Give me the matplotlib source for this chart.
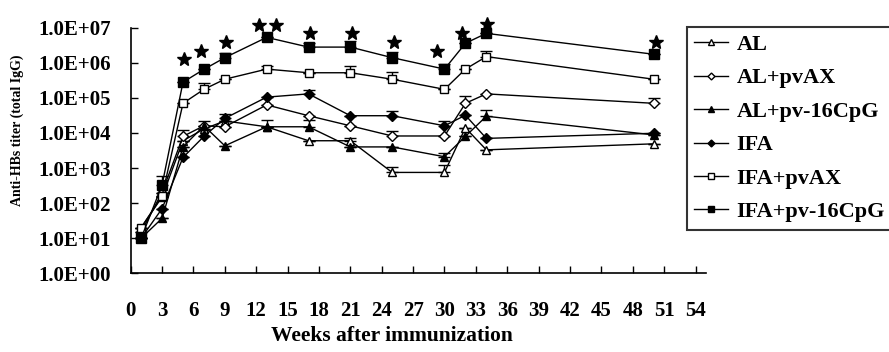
import matplotlib
matplotlib.use("Agg")
import matplotlib.pyplot as plt
import numpy as np

plt.rcParams['font.family'] = ['Liberation Serif', 'DejaVu Serif']
plt.rcParams['font.weight'] = 'bold'

weeks = [1, 3, 5, 7, 9, 13, 17, 21, 25, 30, 32, 34, 50]

al = [20, 150, 6e3, 1.3e4, 2.2e4, 1.5e4, 6e3, 6e3, 750, 750, 1.4e4, 3.3e3, 4.9e3]
al_err = [0, 0, 0, 0, 0, 0, 0, 1.2e3, 350, 500, 0, 0, 0]

al_pvax = [15, 200, 8e3, 1.6e4, 1.5e4, 6.3e4, 3.1e4, 1.6e4, 8.2e3, 8.2e3, 7e4, 1.3e5, 7e4]
al_pvax_err = [0, 0, 4e3, 0, 0, 0, 0, 0, 3.5e3, 0, 4e4, 0, 2.8e4]

al_cpg = [10, 37, 4e3, 1.6e4, 4.3e3, 1.5e4, 1.5e4, 4e3, 4e3, 2.1e3, 8e3, 3e4, 8.8e3]
al_cpg_err = [0, 0, 0, 6e3, 0, 9e3, 8e3, 0, 0, 500, 0, 1.4e4, 0]

ifa = [10, 70, 2e3, 8e3, 2.6e4, 1.05e5, 1.3e5, 3.1e4, 3.1e4, 1.6e4, 3.2e4, 7e3, 9.8e3]
ifa_err = [0, 0, 0, 0, 8e3, 0, 4e4, 0, 1.2e4, 6e3, 0, 0, 0]

ifa_pvax = [20, 160, 7e4, 1.75e5, 3.4e5, 6.6e5, 5.2e5, 5.2e5, 3.4e5, 1.75e5, 6.6e5, 1.5e6, 3.4e5]
ifa_pvax_err = [0, 0, 0, 8.5e4, 0, 1.5e5, 0, 3e5, 2e5, 0, 0, 6e5, 0]

ifa_cpg = [10, 330, 2.8e5, 6.5e5, 1.4e6, 5.3e6, 2.8e6, 2.8e6, 1.4e6, 6.6e5, 3.6e6, 6.9e6, 1.75e6]
ifa_cpg_err = [0, 270, 0, 0, 5.5e5, 0, 8e5, 1.4e6, 6.5e5, 2.6e5, 0, 0, 0]

star_x = [5.1, 6.7, 9.1, 12.3, 13.9, 17.1, 21.2, 25.2, 29.3, 31.7, 34.1, 50.2]
star_y = [1.26e6, 2.2e6, 4e6, 1.2e7, 1.2e7, 6.9e6, 6.9e6, 4e6, 2.2e6, 6.9e6, 1.25e7, 4e6]

labels = ["AL", "AL+pvAX", "AL+pv-16CpG", "IFA", "IFA+pvAX", "IFA+pv-16CpG"]
series = [al, al_pvax, al_cpg, ifa, ifa_pvax, ifa_cpg]
errors = [al_err, al_pvax_err, al_cpg_err, ifa_err, ifa_pvax_err, ifa_cpg_err]
markers = ['^', 'D', '^', 'D', 's', 's']
filled = [False, False, True, True, False, True]
msizes = [6, 5, 6, 5, 6, 6.5]

fig = plt.figure(figsize=(8.89, 3.52), dpi=100)
ax = fig.add_axes([130.7/889, 1-273.3/352, 575.3/889, (273.3-27.7)/352])

handles = []
for y, e, m, f, ms, lab in zip(series, errors, markers, filled, msizes, labels):
    e = np.array(e, dtype=float)
    lower = np.zeros_like(e)
    ax.errorbar(weeks, y, yerr=[lower, e], fmt='none', ecolor='black',
                elinewidth=1, capsize=4, capthick=1, zorder=2)
    h, = ax.plot(weeks, y, color='black', lw=1.0, marker=m, markersize=ms,
                 markerfacecolor='black' if f else 'white',
                 markeredgecolor='black', markeredgewidth=1, label=lab, zorder=3)
    handles.append(h)

ax.plot(star_x, star_y, linestyle='none', marker='*', markersize=10,
        color='black', clip_on=False, zorder=4)

ax.set_yscale('log')
ax.set_ylim(1, 1e7)
ax.set_yticks([10.0**k for k in range(8)])
ax.set_yticklabels(["1.0E+%02d" % k for k in range(8)])
ax.yaxis.set_minor_locator(matplotlib.ticker.NullLocator())
ax.set_xlim(0, 55)
ax.set_xticks(range(0, 55, 3))

for s in ['top', 'right']:
    ax.spines[s].set_visible(False)
for s in ['left', 'bottom']:
    ax.spines[s].set_linewidth(1.2)

ax.tick_params(axis='both', direction='in', length=5, width=1, labelsize=15)
ax.tick_params(axis='y', pad=14)
ax.tick_params(axis='x', pad=20)
for t in ax.get_xticklabels() + ax.get_yticklabels():
    t.set_fontweight('bold')

fig.text(0.5 * (267 + 517) / 889, 1 - 336/352, "Weeks after immunization",
         ha='center', va='center', fontsize=15.5, fontweight='bold')
fig.text(17/889, 1 - 130/352, "Anti-HBs titer (total IgG)", rotation=90,
         ha='center', va='center', fontsize=10, fontweight='bold')

leg = fig.legend(handles=handles, labels=labels, loc='upper left',
                 bbox_to_anchor=(686.7/889, 1 - 26.7/352), bbox_transform=fig.transFigure,
                 frameon=True, fancybox=False, shadow=False,
                 handlelength=1.5, handletextpad=0.4, labelspacing=0.58,
                 borderpad=0.35, borderaxespad=0, markerscale=0.7,
                 prop={'weight': 'bold', 'size': 16})
leg.get_frame().set_edgecolor('black')
leg.get_frame().set_linewidth(1.5)

fig.savefig("out.png", dpi=100, facecolor='white')
